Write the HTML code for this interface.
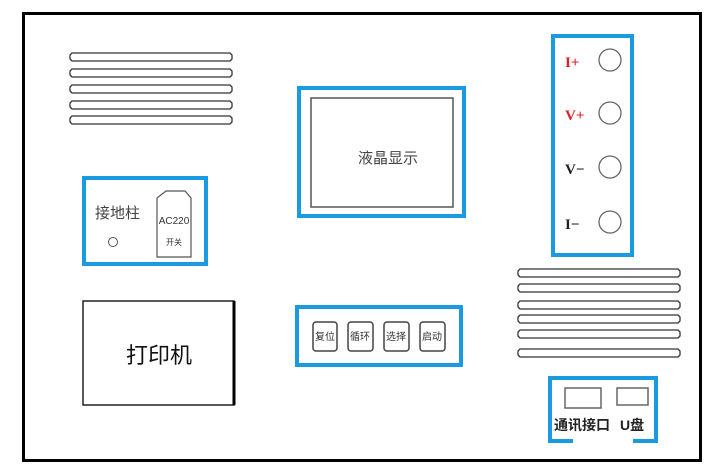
<!DOCTYPE html>
<html><head><meta charset="utf-8"><style>
html,body{margin:0;padding:0;background:#fff;}
svg{display:block;}
text{font-family:"Liberation Sans","Noto Sans CJK SC",sans-serif;}
</style></head><body>
<svg width="710" height="469" viewBox="0 0 710 469" xmlns="http://www.w3.org/2000/svg">
<rect x="23.5" y="13.5" width="677" height="447" fill="none" stroke="#000" stroke-width="3"/>
<g fill="none" stroke="#333" stroke-width="1.3">
<path id="sl" d="M72 53 h158 l2 2 v4 l-2 2 h-158 l-2 -2 v-4 z"/>
<use href="#sl" y="16"/><use href="#sl" y="32"/><use href="#sl" y="48"/><use href="#sl" y="63"/>
<g transform="translate(448,216)">
<use href="#sl" y="0"/><use href="#sl" y="15"/><use href="#sl" y="32"/><use href="#sl" y="46"/><use href="#sl" y="61"/><use href="#sl" y="80"/>
</g>
</g>
<g fill="none" stroke="#1a9be0" stroke-width="4">
<rect x="84" y="178" width="122" height="86"/>
<rect x="299" y="88" width="165" height="128"/>
<rect x="297" y="307" width="164" height="58"/>
<rect x="553" y="36" width="79" height="219"/>
<path d="M573 441 H550 V378 H656 V441 H633"/>
</g>
<rect x="311" y="98" width="142" height="109" fill="none" stroke="#555" stroke-width="1.5"/>
<text x="388" y="163" font-size="15" text-anchor="middle" fill="#444">液晶显示</text>
<text x="95" y="218" font-size="15" fill="#444">接地柱</text>
<circle cx="113" cy="242" r="4.5" fill="none" stroke="#555"/>
<path d="M166 191 H185 L191 198 V257 H157 V198 Z" fill="none" stroke="#555" stroke-width="1.2"/>
<text x="174" y="224" font-size="10" text-anchor="middle" fill="#333">AC220</text>
<text x="174" y="245" font-size="8" text-anchor="middle" fill="#333">开关</text>
<rect x="83" y="301" width="151" height="104" fill="none" stroke="#222" stroke-width="1.5"/>
<line x1="234" y1="301" x2="234" y2="405" stroke="#000" stroke-width="3"/>
<text x="159" y="363" font-size="22" text-anchor="middle" fill="#111">打印机</text>
<g fill="none" stroke="#444" stroke-width="1.5">
<rect x="313" y="322" width="24" height="29" rx="3"/>
<rect x="348" y="322" width="25" height="29" rx="3"/>
<rect x="384" y="322" width="25" height="29" rx="3"/>
<rect x="420" y="322" width="25" height="29" rx="3"/>
</g>
<g font-size="10" fill="#333" text-anchor="middle">
<text x="325" y="340">复位</text><text x="360" y="340">循环</text>
<text x="396" y="340">选择</text><text x="432" y="340">启动</text>
</g>
<g font-family="Liberation Serif" font-weight="bold" font-size="15">
<text x="565" y="67" fill="#e02020" style="font-family:'Liberation Serif',serif">I+</text>
<text x="565" y="120" fill="#e02020" style="font-family:'Liberation Serif',serif">V+</text>
<text x="565" y="174" fill="#222" style="font-family:'Liberation Serif',serif">V−</text>
<text x="565" y="229" fill="#222" style="font-family:'Liberation Serif',serif">I−</text>
</g>
<g fill="none" stroke="#666" stroke-width="1.3">
<circle cx="610" cy="60" r="11"/><circle cx="610" cy="113" r="11"/>
<circle cx="610" cy="167" r="11"/><circle cx="610" cy="222" r="11"/>
</g>
<g fill="none" stroke="#666" stroke-width="1.5">
<rect x="565" y="388" width="36" height="20"/>
<rect x="617" y="388" width="31" height="17"/>
</g>
<text x="554" y="430" font-size="14" fill="#222" font-weight="bold">通讯接口</text>
<text x="620" y="430" font-size="14" fill="#222" font-weight="bold">U盘</text>
</svg>
</body></html>
